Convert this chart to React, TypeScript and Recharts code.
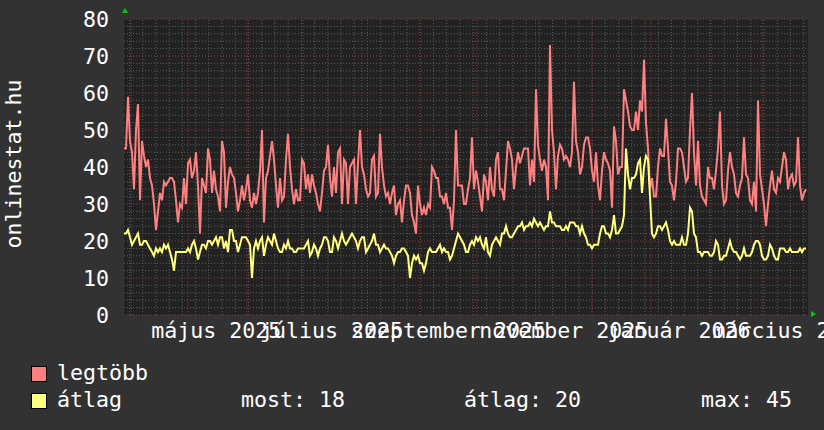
import { CartesianGrid, Line, LineChart, ReferenceLine, XAxis, YAxis } from "recharts";

// napi csúcs (legtöbb) és átlag látogatók, kb. 1 év
const MAX_VALUES = [
  45, 45, 59, 47, 44, 34, 50, 57, 31, 47, 43, 40, 42, 37, 35, 30, 23, 28, 33, 31, 36, 35, 36, 37, 37, 36, 31, 25, 30,
  29, 37, 30, 41, 42, 37, 39, 44, 35, 22, 37, 35, 33, 45, 42, 33, 39, 34, 32, 28, 47, 44, 29, 36, 40, 38, 37, 33, 28,
  31, 35, 31, 34, 38, 31, 29, 33, 30, 33, 39, 50, 25, 37, 39, 43, 47, 42, 35, 29, 37, 31, 32, 42, 49, 40, 34, 30, 34,
  31, 31, 42, 41, 34, 38, 33, 38, 35, 33, 30, 28, 33, 39, 40, 46, 37, 32, 40, 33, 44, 45, 30, 42, 41, 30, 40, 41,
  42, 30, 41, 50, 40, 38, 34, 32, 33, 42, 43, 32, 33, 49, 40, 35, 32, 33, 30, 33, 35, 27, 30, 31, 25, 31, 35, 35, 33,
  27, 25, 22, 35, 30, 27, 29, 27, 30, 29, 40, 39, 37, 37, 32, 32, 30, 33, 29, 29, 23, 31, 50, 35, 35, 35, 30, 30,
  34, 37, 48, 34, 39, 36, 32, 28, 38, 36, 31, 40, 34, 32, 42, 44, 34, 34, 31, 39, 47, 45, 42, 34, 40, 44, 41, 43, 45,
  45, 45, 35, 42, 36, 61, 46, 42, 39, 42, 40, 31, 73, 50, 44, 34, 43, 46, 45, 42, 43, 42, 40, 44, 63, 47, 44, 38,
  40, 46, 48, 48, 45, 39, 36, 44, 35, 31, 39, 44, 42, 41, 39, 29, 51, 47, 38, 40, 40, 61, 58, 55, 51, 50, 50, 55, 50,
  58, 55, 69, 52, 45, 34, 37, 32, 32, 40, 45, 43, 43, 53, 45, 36, 35, 31, 36, 45, 45, 44, 40, 36, 37, 50, 60, 44,
  35, 47, 35, 32, 31, 30, 40, 37, 37, 34, 39, 45, 55, 35, 30, 31, 39, 44, 40, 38, 33, 32, 35, 37, 48, 38, 37, 31, 30,
  36, 28, 58, 38, 34, 30, 24, 30, 35, 39, 34, 33, 37, 36, 40, 44, 42, 34, 37, 38, 35, 36, 48, 35, 31, 33, 34,
];

const AVG_VALUES = [
  22, 22, 23, 21, 19, 20, 21, 22, 19, 19, 20, 20, 19, 18, 17, 16, 18, 17, 18, 17, 19, 18, 19, 17, 15, 12, 17, 17, 17,
  17, 17, 17, 18, 17, 19, 20, 18, 15, 17, 19, 19, 18, 20, 20, 19, 20, 21, 19, 21, 21, 18, 20, 17, 23, 23, 20, 20, 17,
  19, 21, 21, 21, 20, 19, 10, 18, 20, 18, 20, 21, 16, 19, 21, 20, 19, 22, 20, 18, 17, 17, 19, 18, 20, 18, 18, 17, 17,
  18, 18, 18, 18, 19, 20, 16, 17, 19, 18, 16, 18, 19, 21, 21, 20, 17, 17, 21, 20, 18, 20, 22, 20, 19, 20, 21, 22,
  21, 20, 18, 20, 21, 21, 17, 18, 19, 20, 22, 19, 19, 17, 18, 19, 18, 18, 17, 16, 14, 16, 17, 17, 18, 18, 17, 16, 10,
  14, 16, 15, 16, 14, 14, 12, 14, 17, 18, 17, 17, 17, 18, 19, 17, 18, 17, 17, 15, 16, 18, 20, 22, 21, 20, 19, 17,
  17, 19, 20, 19, 21, 20, 21, 19, 18, 21, 17, 16, 19, 20, 21, 20, 19, 22, 22, 24, 22, 21, 21, 22, 23, 24, 24, 25, 23,
  24, 24, 25, 24, 26, 25, 24, 25, 24, 23, 24, 24, 28, 25, 25, 24, 24, 24, 23, 23, 24, 23, 25, 25, 25, 24, 24, 22,
  24, 22, 21, 19, 19, 18, 19, 19, 19, 22, 24, 24, 22, 22, 21, 23, 27, 22, 22, 23, 24, 27, 45, 38, 34, 37, 37, 38, 41,
  42, 33, 40, 43, 42, 32, 22, 21, 22, 24, 24, 23, 24, 25, 23, 20, 19, 20, 19, 19, 19, 21, 19, 19, 22, 29, 28, 22,
  21, 17, 17, 16, 17, 17, 17, 16, 16, 17, 20, 19, 15, 15, 16, 16, 18, 20, 18, 17, 17, 16, 15, 16, 18, 16, 16, 16, 17,
  19, 20, 20, 19, 16, 15, 15, 16, 19, 18, 16, 15, 15, 18, 18, 18, 17, 17, 18, 17, 17, 17, 17, 18, 17, 18, 18,
];

const Y_TICKS = [0, 10, 20, 30, 40, 50, 60, 70, 80];
const MONTH_LABELS = ["május 2025", "július 2025", "szeptember 2025", "november 2025", "január 2026", "március 2026"];
const LABEL_MONTHS = [4, 6, 8, 10, 12, 14]; // hónap index 2025 januártól
const STATS = [
  { label: "most", value: 18 },
  { label: "átlag", value: 20 },
  { label: "max", value: 45 },
];

const FONT = "'DejaVu Sans Mono', monospace";
const TEXT = "#ffffff";
const RED = "#ff8080";
const YELLOW = "#ffff80";

const DAY = 86400000;
const START = Date.UTC(2025, 2, 28, 2);
const STEP = 25.42 * 3600000;
const END = START + MAX_VALUES.length * STEP;

const data = MAX_VALUES.map((max, i) => ({ t: START + i * STEP, max, avg: AVG_VALUES[i] }));

const labelTicks = LABEL_MONTHS.map((m) => Date.UTC(2025, m, 1) + 15 * DAY);
const monthLines = Array.from({ length: 13 }, (_, i) => Date.UTC(2025, 3 + i, 1)).filter((t) => t < END);
const weekLines: number[] = [];
for (let t = Date.UTC(2025, 2, 31); t < END; t += 7 * DAY) weekLines.push(t);
const minorY: number[] = [];
for (let v = 2; v < 80; v += 2) if (v % 10 !== 0) minorY.push(v);

function labelFor(t: number) {
  const i = labelTicks.indexOf(t);
  return i >= 0 ? MONTH_LABELS[i] : "";
}

function YTitle(props: any) {
  const vb = props.viewBox;
  const cx = vb.x + 13;
  const cy = vb.y + vb.height / 2 - 3;
  const ax = vb.x + vb.width + 1;
  return (
    <g>
      <text
        x={cx}
        y={cy}
        transform={`rotate(-90 ${cx} ${cy})`}
        textAnchor="middle"
        dominantBaseline="central"
        fill={TEXT}
        fontFamily={FONT}
        fontSize={21.6}
      >
        onlinestat.hu
      </text>
      <polygon points={`${ax - 3},${vb.y - 6} ${ax + 3},${vb.y - 6} ${ax},${vb.y - 11}`} fill="#00cc00" />
    </g>
  );
}

function XArrow(props: any) {
  const vb = props.viewBox;
  const ax = vb.x + vb.width + 3;
  const ay = vb.y - 1;
  return <polygon points={`${ax},${ay - 3} ${ax},${ay + 3} ${ax + 5},${ay}`} fill="#00cc00" />;
}

function Legend() {
  const row = (top: number) => ({ position: "absolute" as const, top, lineHeight: "21px", whiteSpace: "nowrap" as const });
  const box = (color: string, top: number) => (
    <div
      style={{
        position: "absolute",
        left: 31,
        top,
        width: 14,
        height: 14,
        background: color,
        border: "1px solid #000",
      }}
    />
  );
  return (
    <div
      style={{ position: "absolute", left: 0, top: 0, width: 824, fontFamily: FONT, fontSize: 21.6, color: TEXT }}
    >
      {box(RED, 366)}
      <div style={{ ...row(362), left: 57 }}>legtöbb</div>
      {box(YELLOW, 393)}
      <div style={{ ...row(389), left: 57 }}>átlag</div>
      {STATS.map((s, i) => (
        <div key={s.label} style={{ ...row(389), left: [241, 464, 701][i] }}>
          {s.label}: {s.value}
        </div>
      ))}
    </div>
  );
}

export default function App() {
  return (
    <div style={{ position: "relative", width: 824, height: 430, background: "#323232", overflow: "hidden" }}>
      <style>{"body{margin:0;background:#323232}"}</style>
      <LineChart width={824} height={430} data={data} margin={{ top: 19, right: 16, bottom: 85, left: 0 }}>
        <CartesianGrid fill="#222222" horizontal={false} vertical={false} />
        {weekLines.map((t) => (
          <ReferenceLine key={`w${t}`} x={t} stroke="#5c5c5c" strokeDasharray="1 2" />
        ))}
        {minorY.map((v) => (
          <ReferenceLine key={`h${v}`} y={v} stroke="#5c5c5c" strokeDasharray="1 2" />
        ))}
        {monthLines.map((t) => (
          <ReferenceLine key={`m${t}`} x={t} stroke="#8a3a3a" strokeDasharray="1 2" />
        ))}
        {Y_TICKS.map((v) => (
          <ReferenceLine key={`y${v}`} y={v} stroke="#8a3a3a" strokeDasharray="1 2" />
        ))}
        <XAxis
          dataKey="t"
          type="number"
          domain={[START, END]}
          ticks={labelTicks}
          interval={0}
          tickFormatter={labelFor}
          tickSize={0}
          tickMargin={8}
          axisLine={false}
          tickLine={false}
          height={30}
          tick={{ fill: TEXT, fontFamily: FONT, fontSize: 21.6 }}
          label={<XArrow />}
        />
        <YAxis
          type="number"
          domain={[0, 80]}
          ticks={Y_TICKS}
          interval={0}
          width={124}
          tickSize={0}
          tickMargin={15}
          axisLine={false}
          tickLine={false}
          tick={{ fill: TEXT, fontFamily: FONT, fontSize: 21.6 }}
          label={<YTitle />}
        />
        <Line dataKey="max" stroke={RED} strokeWidth={2} dot={false} isAnimationActive={false} />
        <Line dataKey="avg" stroke={YELLOW} strokeWidth={2} dot={false} isAnimationActive={false} />
      </LineChart>
      <Legend />
    </div>
  );
}
